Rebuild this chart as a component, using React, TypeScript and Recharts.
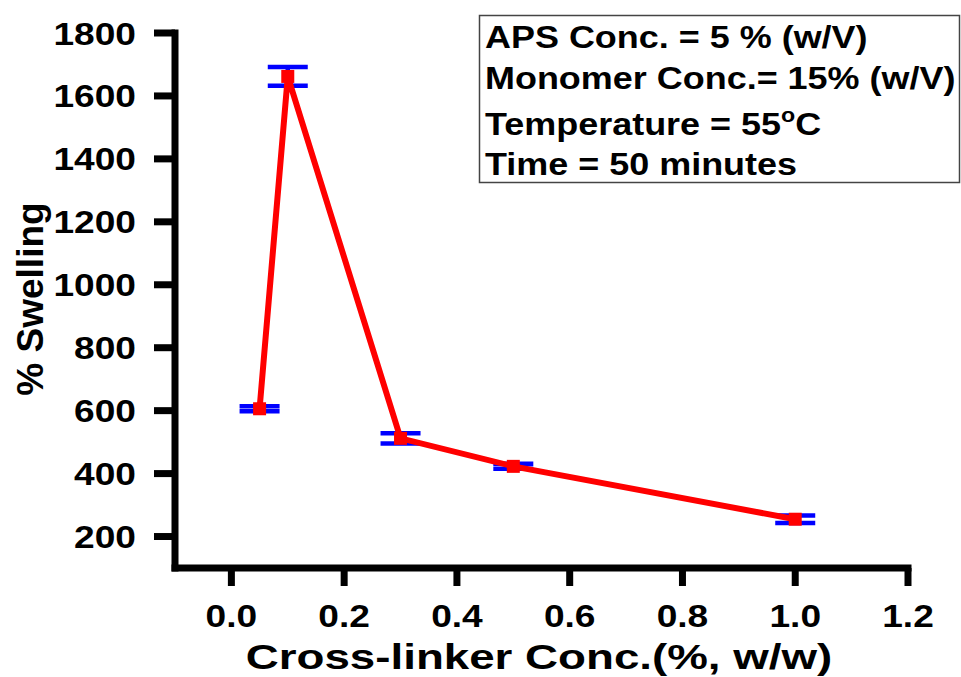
import { ComposedChart, Line, XAxis, YAxis, ErrorBar, ReferenceLine } from 'recharts'

const crossLinker = [0.05, 0.1, 0.3, 0.5, 1.0]
const swelling = [606, 1662, 512, 423, 255]
const swellingErr = [8, 30, 16, 8, 12]

const xTicks = [0, 0.2, 0.4, 0.6, 0.8, 1.0, 1.2]
const yTicks = [200, 400, 600, 800, 1000, 1200, 1400, 1600, 1800]
const xMin = -0.1
const yMin = 100

const conditions = [
  'APS Conc. = 5 % (w/V)',
  'Monomer Conc.= 15% (w/V)',
  'Temperature = 55',
  'Time = 50 minutes',
]

const data = crossLinker.map((x, i) => ({ x, y: swelling[i], err: swellingErr[i] }))

const FONT = '"Liberation Sans", Arial, sans-serif'
const TICK_LEN = 18

// tick line drawn here too, the axis' own tickLine ignores strokeWidth
const YTick = (props: any) => {
  const { x, y, payload } = props
  const ax = x + 21
  return (
    <g>
      <line x1={ax - 3} x2={ax + TICK_LEN} y1={y} y2={y} stroke="#000" strokeWidth={7} />
      <text
        transform={`translate(${x},${y}) scale(1.16,1)`}
        textAnchor="end"
        dy="0.36em"
        fontFamily={FONT}
        fontWeight="bold"
        fontSize={32}
        fill="#000"
      >
        {payload.value}
      </text>
    </g>
  )
}

const XTick = (props: any) => {
  const { x, y, payload } = props
  const ay = y - 18
  return (
    <g>
      <line x1={x} x2={x} y1={ay - TICK_LEN} y2={ay} stroke="#000" strokeWidth={7} />
      <text
        transform={`translate(${x},${y}) scale(1.16,1)`}
        textAnchor="middle"
        dy="0.72em"
        fontFamily={FONT}
        fontWeight="bold"
        fontSize={32}
        fill="#000"
      >
        {Number(payload.value).toFixed(1)}
      </text>
    </g>
  )
}

const SquareDot = (props: any) => {
  const { cx, cy } = props
  if (cx == null || cy == null) return null
  return <rect x={cx - 6.5} y={cy - 6.5} width={13} height={13} fill="#ff0000" />
}

const baselines = [48, 89, 135, 175]

export default function App() {
  return (
    <div style={{ position: 'absolute', left: 0, top: 0, width: 961, height: 677, background: '#fff' }}>
      <ComposedChart width={961} height={677} data={data} margin={{ top: 33, right: 53, left: 0, bottom: 0 }}>
        <XAxis
          dataKey="x"
          type="number"
          domain={[xMin, 1.2]}
          ticks={xTicks}
          axisLine={false}
          tickLine={false}
          tickSize={18}
          tickMargin={18}
          tick={<XTick />}
          height={109}
          allowDataOverflow
          label={{
            content: () => (
              <text
                transform="translate(539,669) scale(1.27,1)"
                textAnchor="middle"
                fontFamily={FONT}
                fontWeight="bold"
                fontSize={36}
                fill="#000"
              >
                Cross-linker Conc.(%, w/w)
              </text>
            ),
          }}
        />
        <YAxis
          type="number"
          domain={[yMin, 1800]}
          ticks={yTicks}
          axisLine={false}
          tickLine={false}
          tickSize={18}
          tickMargin={21}
          tick={<YTick />}
          width={175}
          allowDataOverflow
          label={{
            content: () => (
              <text
                transform="translate(43,299) rotate(-90)"
                textAnchor="middle"
                fontFamily={FONT}
                fontWeight="bold"
                fontSize={37}
                fill="#000"
              >
                % Swelling
              </text>
            ),
          }}
        />
        <ReferenceLine x={xMin} stroke="#000" strokeWidth={7} strokeLinecap="square" />
        <ReferenceLine y={yMin} stroke="#000" strokeWidth={7} strokeLinecap="square" />
        <Line
          dataKey="y"
          stroke="#ff0000"
          strokeWidth={6}
          dot={<SquareDot />}
          activeDot={false}
          isAnimationActive={false}
        >
          <ErrorBar dataKey="err" direction="y" width={20} stroke="#0000ff" strokeWidth={4.5} />
        </Line>
      </ComposedChart>
      <svg width={961} height={677} style={{ position: 'absolute', left: 0, top: 0, pointerEvents: 'none' }}>
        <rect x={479.5} y={15.5} width={480} height={167} fill="none" stroke="#444" strokeWidth={1.5} />
        {conditions.map((t, i) => (
          <text
            key={t}
            transform={`translate(485,${baselines[i]}) scale(1.16,1)`}
            fontFamily={FONT}
            fontWeight="bold"
            fontSize={31}
            fill="#000"
          >
            {t}
            {i === 2 && (
              <>
                <tspan dy={-13} fontSize={20}>o</tspan>
                <tspan dy={13} fontSize={31}>C</tspan>
              </>
            )}
          </text>
        ))}
      </svg>
    </div>
  )
}
